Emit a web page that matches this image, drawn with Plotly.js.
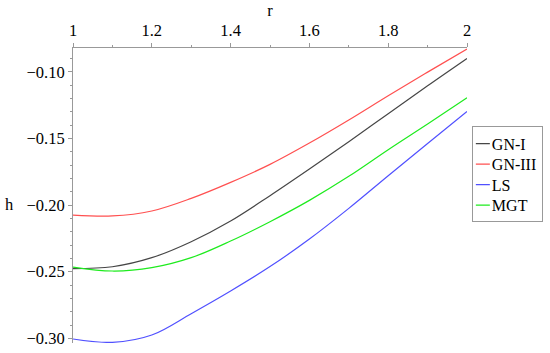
<!DOCTYPE html>
<html>
<head>
<meta charset="utf-8">
<script src="https://cdn.plot.ly/plotly-3.0.1.min.js"></script>
<style>
  html, body { margin: 0; padding: 0; background: #fff; }
  #chart { width: 550px; height: 353px; }
</style>
</head>
<body>
<div id="chart"></div>
<script>
var r = [1.0, 1.1, 1.2, 1.3, 1.4, 1.5, 1.6, 1.7, 1.8, 1.9, 2.0];

var hGN1   = [-0.2477, -0.2463, -0.2395, -0.2275, -0.2120, -0.1930, -0.1730, -0.1525, -0.1315, -0.1105, -0.0900];
var hGN3   = [-0.2075, -0.2082, -0.2045, -0.1950, -0.1830, -0.1695, -0.1535, -0.1362, -0.1180, -0.1003, -0.0829];
var hLS    = [-0.3005, -0.3030, -0.2975, -0.2815, -0.2645, -0.2462, -0.2255, -0.2025, -0.1780, -0.1538, -0.1298];
var hMGT   = [-0.2465, -0.2495, -0.2470, -0.2395, -0.2270, -0.2125, -0.1965, -0.1785, -0.1585, -0.1392, -0.1196];

var names  = ['GN-I', 'GN-III', 'LS', 'MGT'];
var colors = ['rgb(70,70,70)', 'rgb(255,80,80)', 'rgb(80,80,255)', 'rgb(30,235,30)'];
var series = [hGN1, hGN3, hLS, hMGT];

var data = series.map(function(h, i) {
    return {
        x: r,
        y: h,
        type: 'scatter',
        mode: 'lines',
        name: names[i],
        line: {color: colors[i], width: 1.2, shape: 'spline', smoothing: 1}
    };
});

var serif = '"Liberation Serif", "DejaVu Serif", serif';

var layout = {
    width: 550,
    height: 353,
    margin: {l: 73, r: 83, t: 48, b: 10, autoexpand: false},
    paper_bgcolor: '#fff',
    plot_bgcolor: '#fff',
    font: {family: serif, size: 16, color: '#000'},
    showlegend: true,
    legend: {
        xref: 'container', yref: 'container',
        x: 0.987, xanchor: 'right',
        y: 0.507, yanchor: 'middle',
        bordercolor: '#999', borderwidth: 1,
        font: {family: serif, size: 16, color: '#000'},
        itemwidth: 30,
        tracegroupgap: 0
    },
    xaxis: {
        side: 'top',
        range: [1, 2],
        dtick: 0.2,
        tick0: 1,
        showline: true, linecolor: '#999', linewidth: 1,
        ticks: 'outside', ticklen: 4, tickcolor: '#999',
        minor: {dtick: 0.1, ticks: 'outside', ticklen: 2, tickcolor: '#999'},
        showgrid: false, zeroline: false,
        tickfont: {family: serif, size: 16.5, color: '#000'},
        title: {text: 'r', font: {family: serif, size: 16.5, color: '#000'}, standoff: 0}
    },
    yaxis: {
        range: [-0.3035, -0.0822],
        dtick: 0.05,
        tick0: -0.3,
        tickformat: '.2f',
        showline: true, linecolor: '#999', linewidth: 1,
        ticks: 'outside', ticklen: 4, tickcolor: '#999',
        minor: {dtick: 0.01, ticks: 'outside', ticklen: 2, tickcolor: '#999'},
        showgrid: false, zeroline: false,
        tickfont: {family: serif, size: 16.5, color: '#000'}
    },
    annotations: [{
        text: 'h', xref: 'paper', yref: 'paper',
        x: -0.16, y: 0.47, xanchor: 'center', yanchor: 'middle',
        showarrow: false, font: {family: serif, size: 16.5, color: '#000'}
    }]
};

// shorten legend sample lines and tighten row spacing like the original
function tightenLegend() {
    var shift = 21, rowGap = 20.5;
    var leg = document.querySelector('#chart .legend');
    if (!leg) return;
    leg.querySelectorAll('.legendlines path').forEach(function(p) {
        p.setAttribute('d', 'M3,0h14');
    });
    leg.querySelectorAll('text.legendtext').forEach(function(t) {
        t.setAttribute('x', +t.getAttribute('x') - shift);
    });
    var rows = leg.querySelectorAll('g.traces');
    var y0 = null, oldGap = rowGap, saved = 0;
    rows.forEach(function(g, i) {
        var m = /translate\(([-\d.]+),\s*([-\d.]+)\)/.exec(g.getAttribute('transform') || '');
        if (!m) return;
        if (i === 0) y0 = +m[2];
        if (i === 1) oldGap = +m[2] - y0;
        g.setAttribute('transform', 'translate(' + m[1] + ',' + (y0 + i * rowGap) + ')');
    });
    saved = (oldGap - rowGap) * Math.max(rows.length - 1, 0) + (oldGap - rowGap) * 0.5;
    var bg = leg.querySelector('rect.bg');
    if (bg) {
        bg.setAttribute('width', +bg.getAttribute('width') - shift);
        bg.setAttribute('height', +bg.getAttribute('height') - saved);
    }
    var lm = /translate\(([-\d.]+),\s*([-\d.]+)\)/.exec(leg.getAttribute('transform') || '');
    if (lm) leg.setAttribute('transform', 'translate(' + (+lm[1] + shift) + ',' + (+lm[2] + saved / 2) + ')');
}

Plotly.newPlot('chart', data, layout, {displayModeBar: false, staticPlot: true}).then(tightenLegend);
</script>
</body>
</html>
